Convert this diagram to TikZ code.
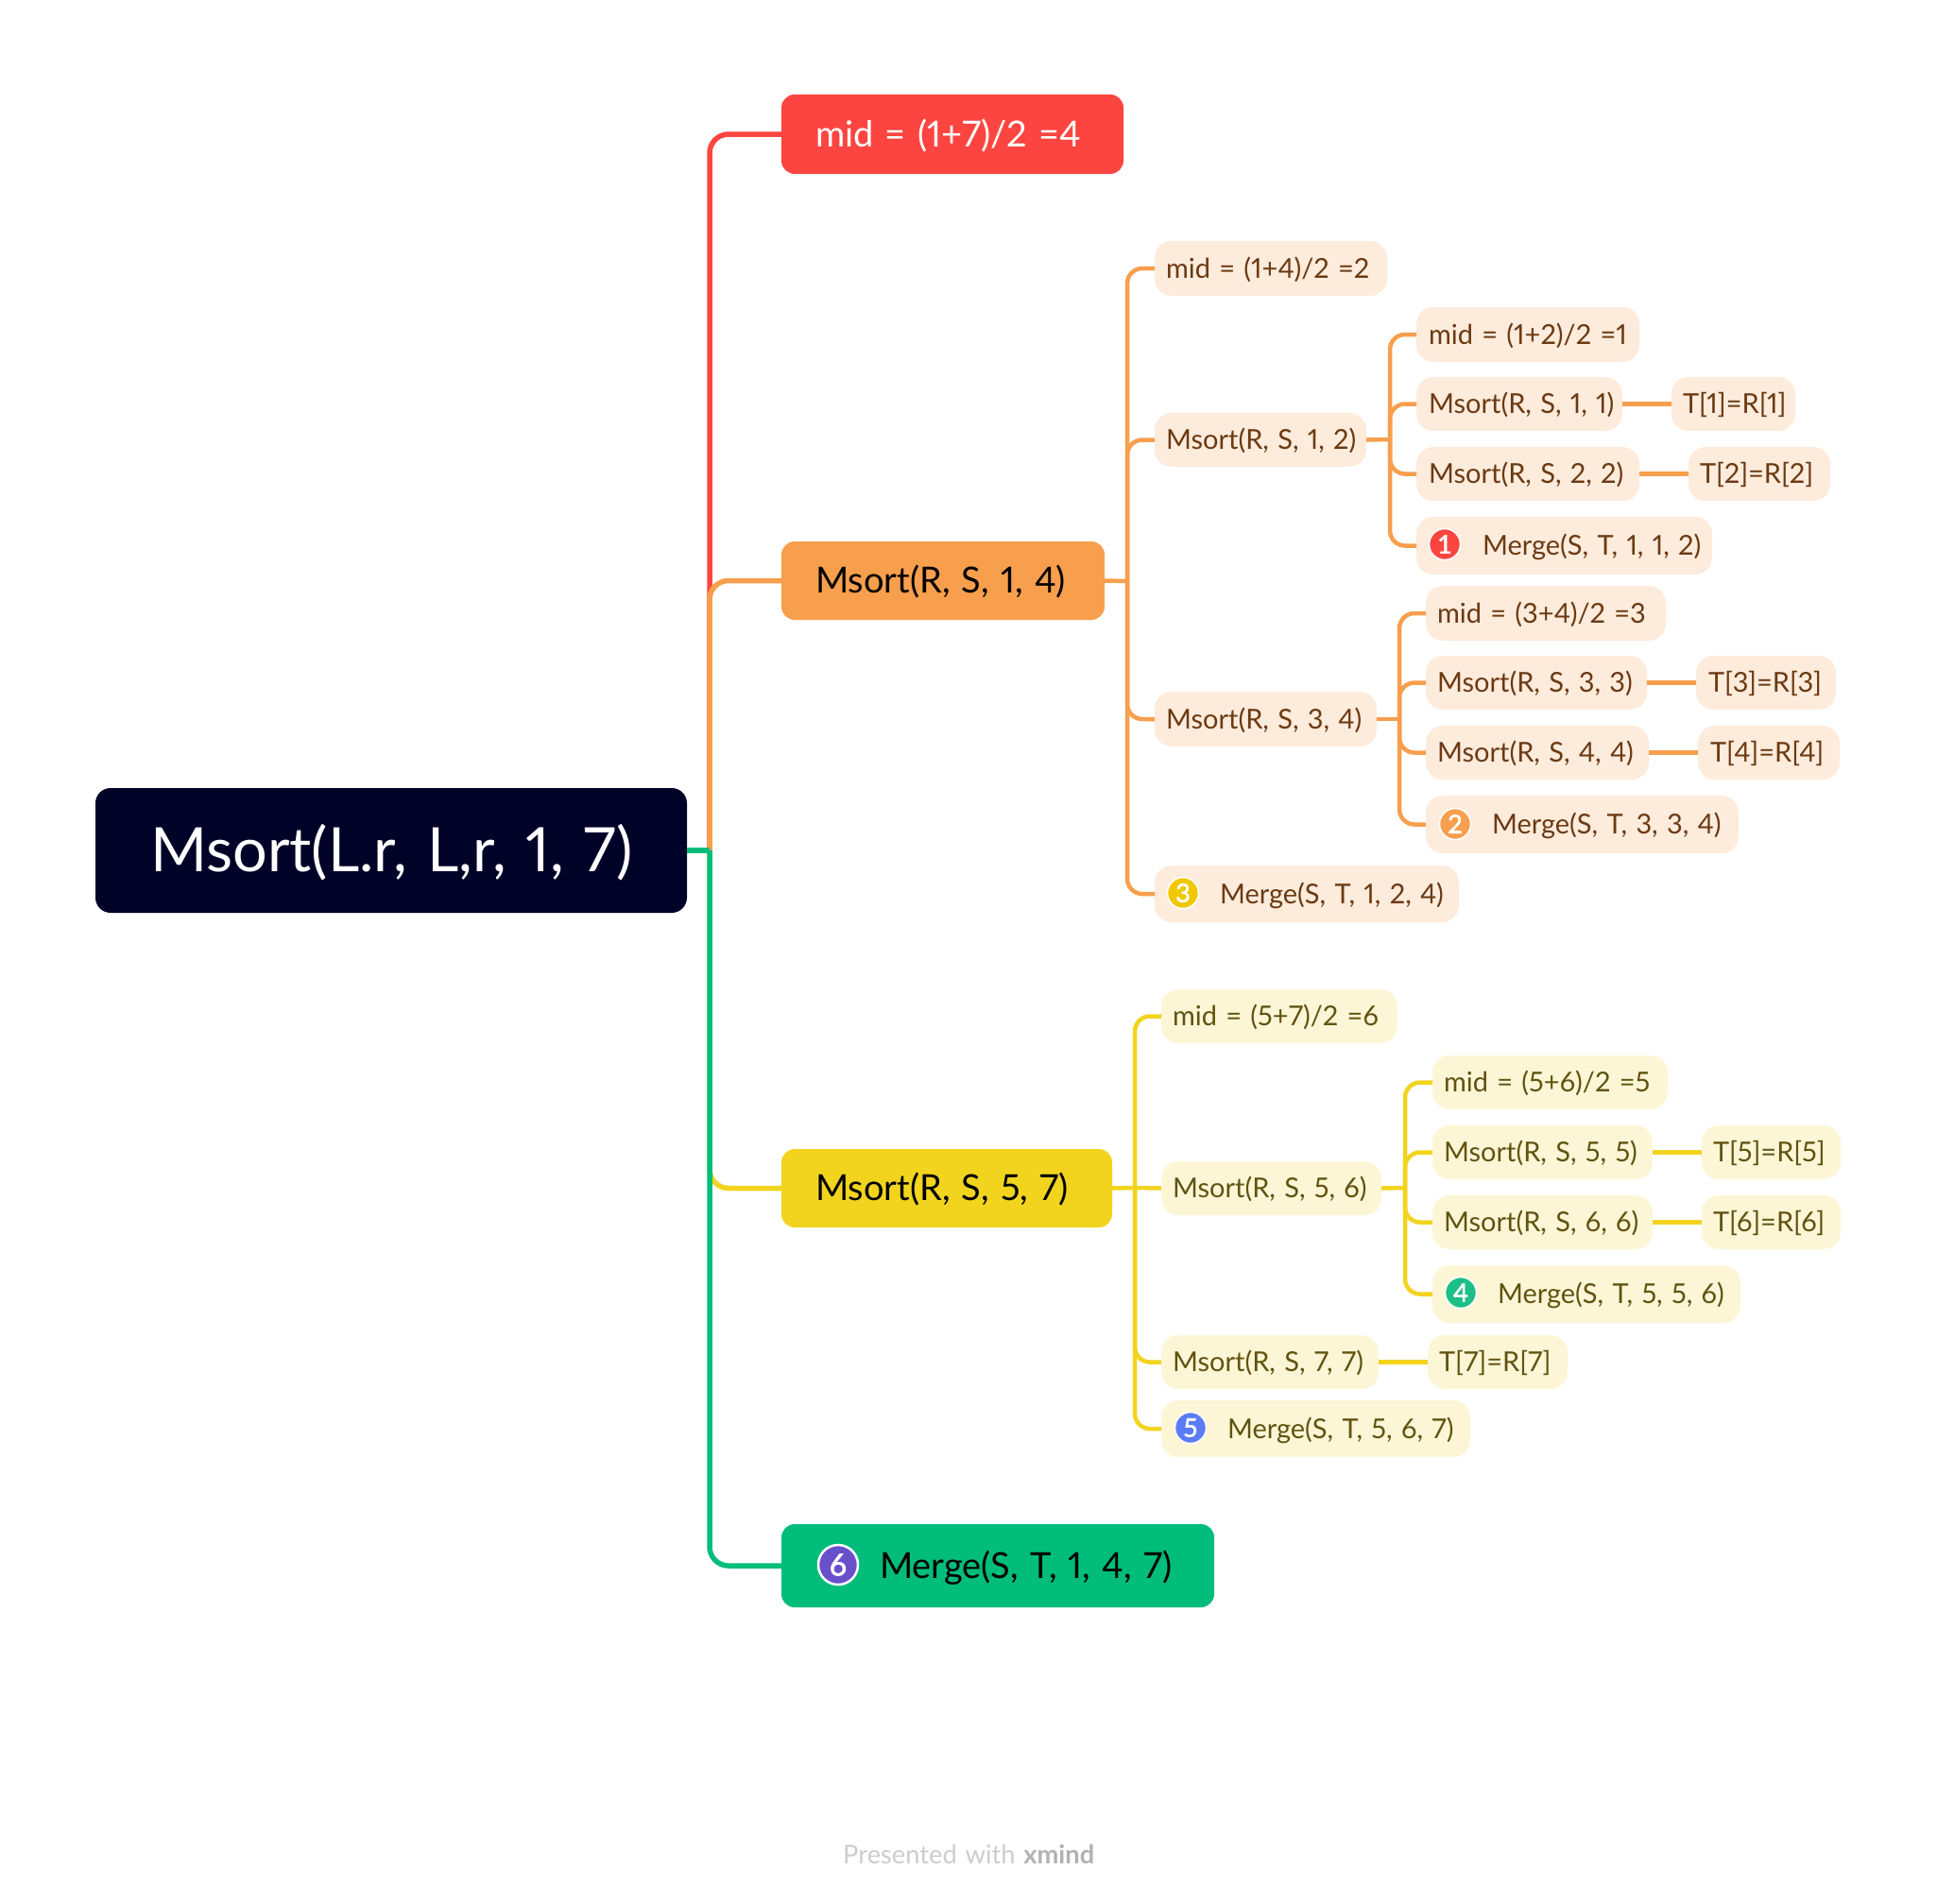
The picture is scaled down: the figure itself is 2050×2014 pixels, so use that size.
\documentclass[tikz,border=0pt]{standalone}
\usepackage{fontspec}
\setmainfont[WordSpace=1.25,Numbers=Proportional]{Lato}
\newfontfamily\iconfont[FakeBold=2]{Lato}
\definecolor{rootc}{HTML}{010228}
\definecolor{redc}{HTML}{FC4540}
\definecolor{orangec}{HTML}{F79F4D}
\definecolor{yellowc}{HTML}{F2D41F}
\definecolor{greenc}{HTML}{00BD7C}
\definecolor{lightorange}{HTML}{FDEBDC}
\definecolor{lightyellow}{HTML}{FDF6D6}
\definecolor{browntext}{HTML}{6B3A12}
\definecolor{olivetext}{HTML}{615310}
\definecolor{blueicon}{HTML}{5A7BF5}
\definecolor{purpleicon}{HTML}{6A4FCB}
\definecolor{icongold}{HTML}{F0C800}
\definecolor{icongreen}{HTML}{1DBF87}
\begin{document}
\begin{tikzpicture}[x=1pt,y=-1pt,
  boxbase/.style={rounded corners=14pt,inner sep=0pt,outer sep=0pt},
  rootbox/.style={boxbase,rounded corners=16pt,fill=rootc,text=white,font=\fontsize{64.8}{66}\selectfont},
  mainbox/.style={boxbase,font=\fontsize{38}{40}\selectfont},
  redbox/.style={mainbox,fill=redc,text=white},
  orangebox/.style={mainbox,fill=orangec,text=black},
  yellowbox/.style={mainbox,fill=yellowc,text=black},
  greenbox/.style={mainbox,fill=greenc,text=black},
  obox/.style={boxbase,rounded corners=18pt,fill=lightorange,text=browntext,font=\fontsize{29}{30}\selectfont},
  ybox/.style={boxbase,rounded corners=18pt,fill=lightyellow,text=olivetext,font=\fontsize{29}{30}\selectfont},
  maincon/.style={line width=5.5pt,rounded corners=20pt},
  subcon/.style={line width=4.5pt,rounded corners=16pt},
  icon/.style={circle,draw=white,line width=1.5pt,inner sep=0pt,minimum size=#1,text=white,font=\iconfont\fontsize{27}{27}\selectfont},
  footer/.style={inner sep=0pt,anchor=west,font=\fontsize{27.3}{30}\selectfont}]
\useasboundingbox (0,0) rectangle (2050,2014);

\newcommand{\T}[8]{\def\argtext{#8}\topicb{#1}{#2}{#3}{#4}{#5}{#6}{#7}}
\newcommand{\topicb}[7]{%
  \pgfmathsetmacro\tw{#5-#3}\pgfmathsetmacro\th{#6-#4}%
  \pgfmathsetmacro\cx{(#3+#5)/2}\pgfmathsetmacro\cy{(#4+#6)/2}%
  \node[#1,minimum width=\tw pt,minimum height=\th pt] (#2) at (\cx,\cy)
    {\makebox[\tw pt][l]{\hspace*{#7pt}\rule[-0.3em]{0pt}{1.3em}\argtext}};}

\T{rootbox}{root}{101}{834}{727}{966}{58}{Msort(L.r, L,r, 1, 7)}
\T{redbox}{nmid}{827}{100}{1189}{184}{36}{mid = (1+7)/2 =4}
\T{orangebox}{nleft}{827}{573}{1169}{656}{36}{Msort(R, S, 1, 4)}
\T{yellowbox}{nright}{827}{1216}{1177}{1299}{36}{Msort(R, S, 5, 7)}
\T{greenbox}{nmerge}{827}{1613}{1285}{1701}{104}{Merge(S, T, 1, 4, 7)}

\T{obox}{a1}{1222}{255}{1468}{313}{12}{mid = (1+4)/2 =2}
\T{obox}{a2}{1222}{437}{1446}{494}{12}{Msort(R, S, 1, 2)}
\T{obox}{a3}{1222}{732}{1457}{790}{12}{Msort(R, S, 3, 4)}
\T{obox}{a4}{1222}{916}{1544}{976}{69}{Merge(S, T, 1, 2, 4)}
\T{obox}{b1}{1499}{325}{1735}{383}{13}{mid = (1+2)/2 =1}
\T{obox}{b2}{1499}{399}{1717}{456}{13}{Msort(R, S, 1, 1)}
\T{obox}{b3}{1499}{473}{1735}{530}{13}{Msort(R, S, 2, 2)}
\T{obox}{b4}{1499}{547}{1812}{608}{70}{Merge(S, T, 1, 1, 2)}
\T{obox}{t1}{1769}{399}{1900}{456}{12}{T[1]=R[1]}
\T{obox}{t2}{1787}{473}{1937}{530}{12}{T[2]=R[2]}
\T{obox}{c1}{1509}{620}{1763}{678}{12}{mid = (3+4)/2 =3}
\T{obox}{c2}{1509}{694}{1743}{751}{12}{Msort(R, S, 3, 3)}
\T{obox}{c3}{1509}{768}{1745}{825}{12}{Msort(R, S, 4, 4)}
\T{obox}{c4}{1509}{842}{1840}{903}{70}{Merge(S, T, 3, 3, 4)}
\T{obox}{t3}{1795}{694}{1943}{751}{13}{T[3]=R[3]}
\T{obox}{t4}{1797}{768}{1947}{825}{13}{T[4]=R[4]}

\T{ybox}{d1}{1229}{1047}{1479}{1104}{12}{mid = (5+7)/2 =6}
\T{ybox}{d2}{1229}{1229}{1462}{1286}{12}{Msort(R, S, 5, 6)}
\T{ybox}{d3}{1229}{1413}{1459}{1470}{12}{Msort(R, S, 7, 7)}
\T{ybox}{d4}{1229}{1482}{1556}{1542}{70}{Merge(S, T, 5, 6, 7)}
\T{ybox}{t7}{1511}{1413}{1659}{1470}{12}{T[7]=R[7]}
\T{ybox}{e1}{1516}{1117}{1765}{1174}{12}{mid = (5+6)/2 =5}
\T{ybox}{e2}{1516}{1191}{1749}{1248}{12}{Msort(R, S, 5, 5)}
\T{ybox}{e3}{1516}{1265}{1749}{1322}{12}{Msort(R, S, 6, 6)}
\T{ybox}{e4}{1516}{1339}{1842}{1400}{69}{Merge(S, T, 5, 5, 6)}
\T{ybox}{t5}{1801}{1191}{1948}{1248}{12}{T[5]=R[5]}
\T{ybox}{t6}{1801}{1265}{1948}{1322}{12}{T[6]=R[6]}

% icons
\node[icon=33pt,fill=redc] (i1) at (1529,576) {1};
\node[icon=33pt,fill=orangec] (i2) at (1540,872) {2};
\node[icon=33pt,fill=icongold] (i3) at (1252,945) {3};
\node[icon=33pt,fill=icongreen] (i4) at (1546,1368) {4};
\node[icon=33pt,fill=blueicon] (i5) at (1260,1511) {5};
\node[icon=42pt,draw=white,line width=2.5pt,fill=purpleicon,font=\iconfont\fontsize{32}{32}\selectfont] (i6) at (887,1656) {6};

% buses
\coordinate (trunk) at (751,900);
\coordinate (busa) at (1193,615);
\coordinate (busb) at (1471,465);
\coordinate (busc) at (1481,761);
\coordinate (busd) at (1201,1257);
\coordinate (buse) at (1487,1257);

% main connectors
\draw[maincon,redc] (trunk) |- (nmid.west);
\draw[maincon,orangec] (trunk) |- (nleft.west);
\draw[maincon,yellowc] (trunk) |- (nright.west);
\draw[maincon,greenc] (trunk) |- (nmerge.west);
\draw[line width=5.5pt,greenc] (root.east) -- (trunk);

% orange tree
\begin{scope}[orangec]
\draw[subcon] (busa) |- (a1.west);
\draw[subcon] (busa) |- (a2.west);
\draw[subcon] (busa) |- (a3.west);
\draw[subcon] (busa) |- (a4.west);
\draw[subcon] (nleft.east) -- (busa);
\draw[subcon] (busb) |- (b1.west);
\draw[subcon] (busb) |- (b2.west);
\draw[subcon] (busb) |- (b3.west);
\draw[subcon] (busb) |- (b4.west);
\draw[subcon] (a2.east) -- (busb);
\draw[subcon] (busc) |- (c1.west);
\draw[subcon] (busc) |- (c2.west);
\draw[subcon] (busc) |- (c3.west);
\draw[subcon] (busc) |- (c4.west);
\draw[subcon] (a3.east) -- (busc);
\draw[subcon] (b2.east) -- (t1.west);
\draw[subcon] (b3.east) -- (t2.west);
\draw[subcon] (c2.east) -- (t3.west);
\draw[subcon] (c3.east) -- (t4.west);
\end{scope}

% yellow tree
\begin{scope}[yellowc]
\draw[subcon] (busd) |- (d1.west);
\draw[subcon] (busd) -- (d2.west);
\draw[subcon] (busd) |- (d3.west);
\draw[subcon] (busd) |- (d4.west);
\draw[subcon] (nright.east) -- (busd);
\draw[subcon] (buse) |- (e1.west);
\draw[subcon] (buse) |- (e2.west);
\draw[subcon] (buse) |- (e3.west);
\draw[subcon] (buse) |- (e4.west);
\draw[subcon] (d2.east) -- (buse);
\draw[subcon] (e2.east) -- (t5.west);
\draw[subcon] (e3.east) -- (t6.west);
\draw[subcon] (d3.east) -- (t7.west);
\end{scope}

\node[footer,text=black!20] (foot) at (892,1962) {Presented with \textcolor{black!30}{\bfseries xmind}};
\end{tikzpicture}
\end{document}
